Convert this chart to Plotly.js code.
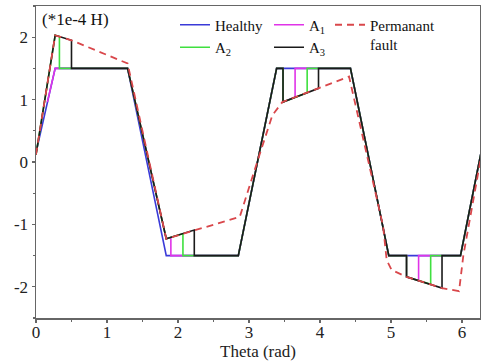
<!DOCTYPE html>
<html>
<head>
<meta charset="utf-8">
<script src="https://cdn.plot.ly/plotly-3.0.1.min.js"></script>
<style>html,body{margin:0;padding:0;background:#fff;}#chart{width:481px;height:364px;}</style>
</head>
<body>
<div id="chart"></div>
<script>
// Healthy inductance (x in rad, y in 1e-4 H)
const healthyX = [0, 0.27, 1.29, 1.835, 2.85, 3.39, 4.43, 4.97, 5.98, 6.27];
const healthyY = [0.15, 1.5, 1.5, -1.5, -1.5, 1.5, 1.5, -1.5, -1.5, 0.15];

// A1 (short intermittent fault)
const a1X = [0.16, 0.27, 1.29, 1.835, 1.90, 1.90, 2.85, 3.39, 3.48, 3.48, 3.65, 3.65, 4.43, 4.97, 5.22, 5.22, 5.39, 5.39, 5.98, 6.27];
const a1Y = [0.96, 1.5, 1.5, -1.23, -1.21, -1.5, -1.5, 1.5, 1.5, 0.96, 1.04, 1.5, 1.5, -1.5, -1.5, -1.84, -1.90, -1.5, -1.5, 0.15];

// A2
const a2X = [0, 0.27, 0.33, 0.33, 1.29, 1.835, 2.07, 2.07, 2.85, 3.39, 3.48, 3.48, 3.82, 3.82, 4.43, 4.97, 5.22, 5.22, 5.56, 5.56, 5.98, 6.27];
const a2Y = [0.12, 2.03, 2.01, 1.5, 1.5, -1.23, -1.15, -1.5, -1.5, 1.5, 1.5, 0.96, 1.11, 1.5, 1.5, -1.5, -1.5, -1.84, -1.96, -1.5, -1.5, 0.15];

// A3
const a3X = [0, 0.27, 0.5, 0.5, 1.29, 1.835, 2.23, 2.23, 2.85, 3.39, 3.48, 3.48, 3.98, 3.98, 4.43, 4.97, 5.22, 5.22, 5.72, 5.72, 5.98, 6.27];
const a3Y = [0.12, 2.03, 1.95, 1.5, 1.5, -1.23, -1.09, -1.5, -1.5, 1.5, 1.5, 0.96, 1.18, 1.5, 1.5, -1.5, -1.5, -1.84, -2.02, -1.5, -1.5, 0.15];

// Permanent fault
const faultX = [0, 0.27, 0.5, 1.29, 1.835, 2.87, 3.15, 3.33, 3.47, 4.41, 4.89, 4.94, 5.01, 5.22, 5.72, 5.96, 6.02, 6.14, 6.27];
const faultY = [0.12, 2.03, 1.95, 1.58, -1.23, -0.88, 0.12, 0.75, 0.96, 1.37, -1.03, -1.57, -1.73, -1.84, -2.02, -2.07, -1.5, -0.72, 0.08];

const xTicks = [0, 1, 2, 3, 4, 5, 6];
const yTicks = [-2, -1, 0, 1, 2];

const FONT = 'Liberation Serif, Times New Roman, serif';

const traces = [
  {x: healthyX, y: healthyY, name: 'Healthy', mode: 'lines', line: {color: '#3a3ad8', width: 1.6}, legend: 'legend'},
  {x: a1X, y: a1Y, name: 'A<sub>1</sub>', mode: 'lines', line: {color: '#e033e8', width: 1.6}, legend: 'legend2'},
  {x: a2X, y: a2Y, name: 'A<sub>2</sub>', mode: 'lines', line: {color: '#3fe03f', width: 1.6}, legend: 'legend'},
  {x: a3X, y: a3Y, name: 'A<sub>3</sub>', mode: 'lines', line: {color: '#1a1a1a', width: 1.6}, legend: 'legend2'},
  {x: faultX, y: faultY, name: 'Permanant<br>fault', mode: 'lines', line: {color: '#d9474b', width: 1.8, dash: '7px,5px'}, legend: 'legend3'}
];

const legBase = {
  bgcolor: 'rgba(0,0,0,0)', borderwidth: 0, font: {family: FONT, size: 15, color: '#111'},
  orientation: 'v', xanchor: 'left', yanchor: 'top', y: 0.992, traceorder: 'normal'
};

const layout = {
  width: 481, height: 364,
  margin: {l: 36, r: 1, t: 6, b: 46},
  paper_bgcolor: '#fff', plot_bgcolor: '#fff',
  showlegend: true,
  legend: Object.assign({}, legBase, {x: (175 - 36) / 444}),
  legend2: Object.assign({}, legBase, {x: (269 - 36) / 444}),
  legend3: Object.assign({}, legBase, {x: (330 - 36) / 444, valign: 'top'}),
  xaxis: {
    range: [0, 6.255], tickvals: xTicks, ticktext: xTicks.map(String),
    showgrid: false, zeroline: false, showline: true, mirror: true,
    linecolor: '#666', linewidth: 1.5, ticks: 'outside', ticklen: 3, tickwidth: 1.2, tickcolor: '#666',
    minor: {dtick: 0.5, ticks: 'outside', ticklen: 2, tickcolor: '#666', showgrid: false},
    ticklabelstandoff: -5,
    tickfont: {family: FONT, size: 17, color: '#222'},
    title: {text: 'Theta (rad)', font: {family: FONT, size: 17, color: '#222'}, standoff: 2}
  },
  yaxis: {
    range: [-2.5, 2.5], tickvals: yTicks, ticktext: yTicks.map(String),
    showgrid: false, zeroline: false, showline: true, mirror: true,
    linecolor: '#666', linewidth: 1.5, ticks: 'outside', ticklen: 3, tickwidth: 1.2, tickcolor: '#666',
    minor: {dtick: 0.5, ticks: 'outside', ticklen: 2, tickcolor: '#666', showgrid: false},
    tickfont: {family: FONT, size: 17, color: '#222'}
  },
  annotations: [{
    text: '(*1e-4 H)', xref: 'paper', yref: 'paper', x: 0.01, y: 0.995, xanchor: 'left', yanchor: 'top',
    showarrow: false, font: {family: FONT, size: 17, color: '#111'}
  }]
};

Plotly.newPlot('chart', traces, layout, {displayModeBar: false, staticPlot: true});
</script>
</body>
</html>
